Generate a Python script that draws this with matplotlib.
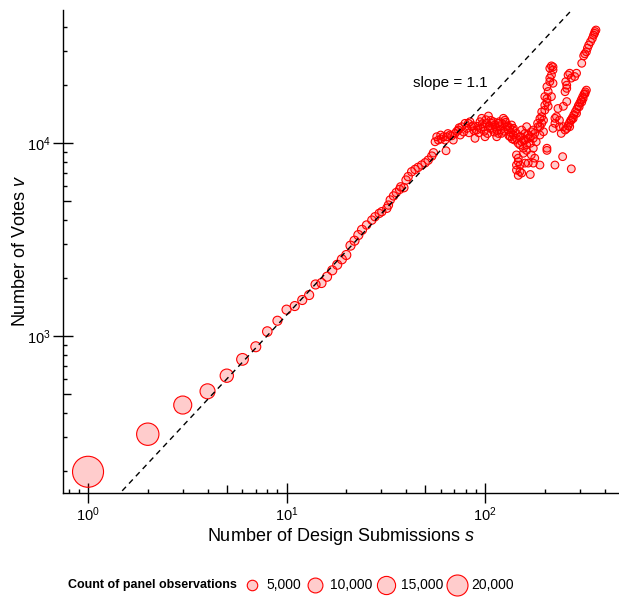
import numpy as np
import matplotlib
matplotlib.use('Agg')
import matplotlib.pyplot as plt
from matplotlib.ticker import FixedLocator, NullFormatter

plt.rcParams['font.family'] = ['Liberation Sans', 'DejaVu Sans']
plt.rcParams['mathtext.fontset'] = 'custom'
plt.rcParams['mathtext.rm'] = 'Liberation Sans'
plt.rcParams['mathtext.it'] = 'Liberation Sans:italic'
plt.rcParams['mathtext.bf'] = 'Liberation Sans:bold'

# --- data -----------------------------------------------------------------
# first submissions: one point per s, each with its own panel count
early_s = [1, 2, 3, 4, 5, 6, 7, 8, 9, 10, 11, 12, 13, 14, 15, 16, 17, 18, 19, 20,
           21, 22, 23, 24]
early_v = [198, 310, 439, 517, 623, 757, 880, 1055, 1200, 1370, 1430, 1537, 1631,
           1850, 1882, 2029, 2190, 2341, 2497, 2629, 2940, 3118, 3336, 3550]
early_count = [43600, 22600, 14700, 10200, 8000, 6200, 4500, 4100, 3700, 3700,
               3700, 3700, 3700, 3700, 3700, 3700, 3700, 3700, 3700, 3700, 3700,
               3700, 3700, 3700]

# power-law rise up to the plateau
rise_s = [25.3, 26.9, 27.9, 29.3, 30.2, 32, 32.6, 33.3, 34.6, 35.7, 37.1, 37.6, 39,
          40, 41, 42.7, 44.4, 46, 48, 49.9, 51.7, 53.9, 55]
rise_v = [3760, 3987, 4150, 4320, 4410, 4590, 4770, 5070, 5320, 5540, 5750, 5930,
          5870, 6430, 6700, 7100, 7300, 7480, 7690, 7900, 8150, 8560, 8900]
rise_count = 3100

# plateau around 10^4 votes
plateau_s = [56, 57.1, 58.2, 59.8, 61.7, 62.9, 64.1, 66.6, 69.2, 63.6, 70.6, 73.4,
             75, 76.3, 79.3, 82.4, 84, 85.7, 89, 90.7, 94.3, 96.2, 98, 100, 102,
             104, 106, 108, 112, 114.5, 116.7, 119, 121, 123.7, 126, 128.6, 131,
             134, 136, 139, 60, 65, 68, 72, 74, 78, 81, 83, 87, 88, 92, 93, 95, 97,
             99, 101, 103, 105, 107, 109, 110, 111, 113, 115, 117, 118, 120, 122,
             125, 127, 130, 132, 133, 135, 137, 138]
plateau_v = [10150, 10780, 10360, 11000, 10780, 10360, 10780, 11000, 10360, 9120,
             11220, 11680, 11000, 12150, 12650, 12650, 12890, 12150, 10580, 11680,
             12890, 13430, 12150, 10780, 12650, 13800, 11920, 12650, 12400, 10780,
             12650, 12150, 11220, 13430, 13130, 12150, 11680, 10780, 12400, 11920,
             10500, 11200, 10900, 11500, 12000, 11400, 11900, 11300, 12300, 11600,
             12200, 11300, 11900, 12600, 11500, 13200, 11200, 12300, 13100, 11800,
             12900, 11400, 12100, 11600, 11200, 12900, 11700, 12600, 11500, 12800,
             12300, 10900, 12000, 11300, 10500, 11700]

# late submissions: dip, stragglers and the three upper branches
tail_s = [141, 144, 147, 150, 153, 156, 159, 162, 165, 139, 144, 150, 153, 159,
          162, 165, 169, 171, 175, 178, 181, 185, 189, 193, 197, 175, 156, 162,
          150, 156, 144, 171, 178, 205,
          147, 150, 144, 153, 169, 165, 189, 225, 147, 144, 150, 147, 159, 175,
          246, 272, 205,
          175, 184, 189, 197, 169,
          189, 193, 200, 205, 200, 193, 205, 200, 208, 205, 212, 216, 212, 220,
          212, 220, 208, 216, 216, 220,
          225, 237, 248, 220, 229, 233, 248, 258, 253, 258, 262, 272, 283, 289,
          267, 237, 225, 253, 242, 255, 258,
          258, 262, 266, 270, 275, 280, 285, 290, 295, 300, 305, 310, 315, 320,
          324, 267, 272, 289, 307, 319, 278, 298, 312,
          307, 314, 318, 324, 328, 333, 340, 347, 352, 356, 358, 362]
tail_v = [10360, 11220, 9965, 10780, 11680, 10360, 11220, 12150, 10580, 11000,
          10580, 10800, 10150, 10360, 9780, 11000, 9965, 11440, 10580, 11220,
          10150, 12150, 11000, 12650, 11440, 9400, 8850, 9160, 9780, 9400, 8680,
          8680, 8350, 9160,
          8000, 7690, 7240, 6990, 6870, 7870, 7690, 7690, 8350, 7690, 7120, 6800,
          7870, 7870, 8500, 7350, 9400,
          11680, 12650, 12150, 13130, 10780,
          13400, 14500, 15700, 17000, 14800, 13700, 16300, 17400, 18500, 19600,
          20800, 22500, 24400, 24800, 21700, 20400, 15500, 17400, 25100, 23900,
          13430, 13130, 12150, 11920, 13700, 15100, 15500, 16400, 18450, 19950,
          22500, 21700, 22100, 23000, 23000, 12150, 12650, 11680, 11220, 20800,
          19200,
          11900, 12300, 12700, 13100, 13500, 14000, 14500, 15000, 15600, 16100,
          16700, 17300, 17900, 18400, 18800, 12150, 13130, 14250, 16300, 18000,
          13400, 15400, 17000,
          25900, 28300, 29000, 29700, 31000, 32200, 33500, 34800, 36200, 37000,
          37800, 38500]
tail_count = 2700

legend_counts = [5000, 10000, 15000, 20000]
legend_labels = ['5,000', '10,000', '15,000', '20,000']

fit_slope = 1.1
fit_prefactor = 102

# --- styling ---------------------------------------------------------------
FACE = (1, 0, 0, 0.2)
EDGE = 'red'
SIZE_PER_OBS = 228.6 / 20000  # marker area (pt^2) per observation

s_all = np.concatenate([early_s, rise_s, plateau_s, tail_s])
v_all = np.concatenate([early_v, rise_v, plateau_v, tail_v])
c_all = np.concatenate([early_count,
                        np.full(len(rise_s), rise_count),
                        np.full(len(plateau_s), tail_count),
                        np.full(len(tail_s), tail_count)])

fig = plt.figure(figsize=(6.19, 6.01), dpi=100)
ax = fig.add_axes([63 / 619, 108 / 601, 556 / 619, 483 / 601])

ax.scatter(s_all, v_all, s=c_all * SIZE_PER_OBS, facecolor=FACE,
           edgecolor=EDGE, linewidth=0.8, zorder=2)

# fitted power law
xs = np.array([1.0, 500.0])
ax.plot(xs, fit_prefactor * xs ** fit_slope, color='black', lw=1.0,
        ls=(0, (4, 3.2)), zorder=3)
ax.text(67, 20500, 'slope = 1.1', ha='center', va='center', fontsize=11)

ax.set_xscale('log')
ax.set_yscale('log')
ax.set_xlim(0.748, 473)
ax.set_ylim(153.7, 48900)

ax.xaxis.set_major_locator(FixedLocator([1, 10, 100]))
ax.yaxis.set_major_locator(FixedLocator([1000, 10000]))
x_minor = [0.8, 0.9] + [k * 10 ** e for e in (0, 1) for k in range(2, 10)] + [200, 300, 400]
y_minor = [k * 10 ** e for e in (2, 3) for k in range(2, 10)] + [20000, 30000, 40000]
ax.xaxis.set_minor_locator(FixedLocator(x_minor))
ax.yaxis.set_minor_locator(FixedLocator(y_minor))
ax.xaxis.set_minor_formatter(NullFormatter())
ax.yaxis.set_minor_formatter(NullFormatter())

ax.tick_params(which='major', direction='inout', length=14.4, width=1.0,
               labelsize=10.5, pad=1.5)
ax.tick_params(which='minor', direction='in', length=3.2, width=1.0)

# Igor-style longer tick at the 5s
for axis in (ax.xaxis, ax.yaxis):
    locs = axis.get_minorticklocs()
    for loc, tick in zip(locs, axis.get_minor_ticks(len(locs))):
        mant = loc / 10 ** np.floor(np.log10(loc))
        if np.isclose(mant, 5):
            tick.tick1line.set_markersize(6.1)

for side in ('top', 'right'):
    ax.spines[side].set_visible(False)
for side in ('left', 'bottom'):
    ax.spines[side].set_linewidth(1.0)

ax.set_xlabel('Number of Design Submissions $\\mathit{s}$', fontsize=13, labelpad=2)
ax.set_ylabel('Number of Votes $\\mathit{v}$', fontsize=13, labelpad=-1)

# size legend
handles = [ax.scatter([], [], s=c * SIZE_PER_OBS, facecolor=FACE, edgecolor=EDGE,
                      linewidth=0.8) for c in legend_counts]
fig.legend(handles, legend_labels, ncol=4, loc='center',
           bbox_to_anchor=(0.612, 0.027), frameon=False, fontsize=10,
           handletextpad=0.45, columnspacing=0.4, handlelength=1.2,
           scatterpoints=1, borderpad=0)
fig.text(68 / 619, 0.027, 'Count of panel observations', fontweight='bold',
         fontsize=9, ha='left', va='center')

fig.savefig('out.png', dpi=100)
